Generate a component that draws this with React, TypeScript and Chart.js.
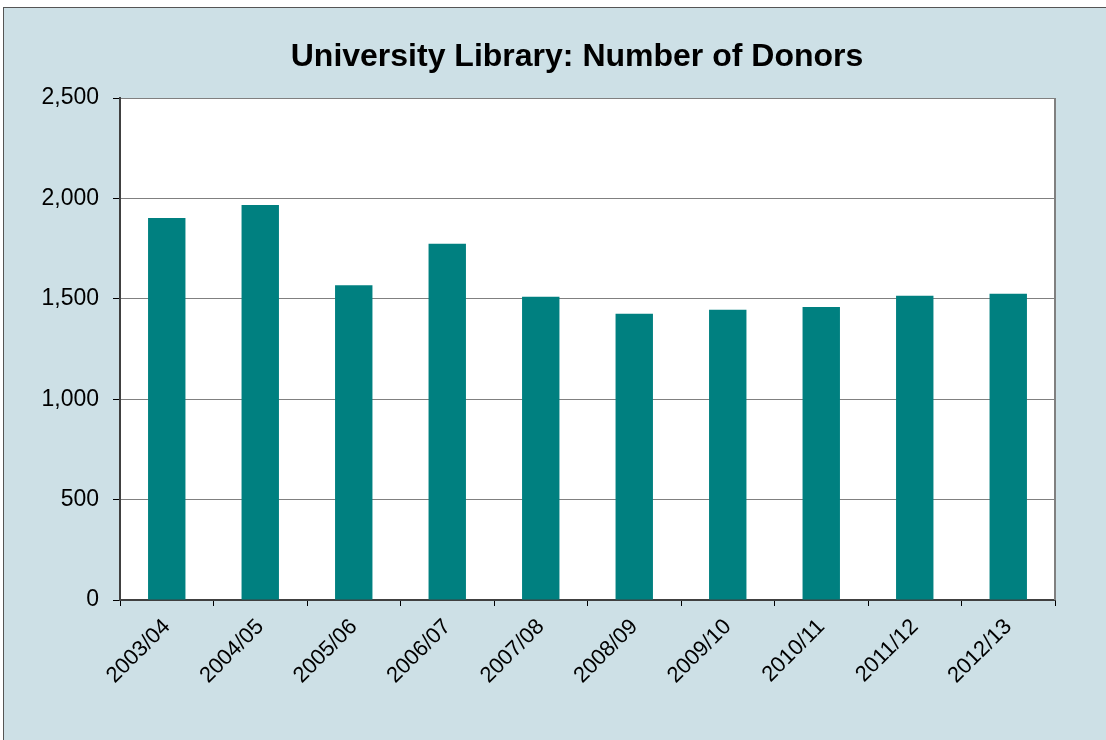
import React, { useEffect, useRef } from "react";
import { Chart, registerables } from "chart.js";

Chart.register(...registerables);

const categories = [
  "2003/04", "2004/05", "2005/06", "2006/07", "2007/08",
  "2008/09", "2009/10", "2010/11", "2011/12", "2012/13",
];
const donors = [1902, 1967, 1568, 1774, 1510, 1425, 1445, 1459, 1515, 1525];
const yTicks = [0, 500, 1000, 1500, 2000, 2500];
const titleText = "University Library: Number of Donors";

const FONT = "Arial, 'Liberation Sans', sans-serif";

const frame = {
  id: "frame",
  beforeDraw(chart: any) {
    const { ctx, chartArea } = chart;
    ctx.save();
    ctx.fillStyle = "#ffffff";
    ctx.fillRect(chartArea.left, chartArea.top, chartArea.right - chartArea.left, chartArea.bottom - chartArea.top);
    ctx.restore();
  },
  afterDraw(chart: any) {
    const { ctx, chartArea } = chart;
    ctx.save();
    ctx.strokeStyle = "#808080";
    ctx.lineWidth = 2;
    ctx.beginPath();
    ctx.moveTo(chartArea.right, chartArea.top);
    ctx.lineTo(chartArea.right, chartArea.bottom);
    ctx.stroke();
    ctx.fillStyle = "#000";
    ctx.font = `bold 32px ${FONT}`;
    ctx.textAlign = "center";
    ctx.textBaseline = "alphabetic";
    ctx.fillText(titleText, 573, 58);
    ctx.restore();
  },
};

export default function App() {
  const ref = useRef<HTMLCanvasElement | null>(null);
  useEffect(() => {
    if (!ref.current) return;
    const chart = new Chart(ref.current, {
      type: "bar",
      data: {
        labels: categories,
        datasets: [
          {
            data: donors,
            backgroundColor: "#008080",
            borderWidth: 0,
            barPercentage: 0.4,
            categoryPercentage: 1,
          },
        ],
      },
      options: {
        animation: false,
        responsive: false,
        maintainAspectRatio: false,
        layout: { padding: { left: 0, top: 90, right: 51, bottom: 0 } },
        plugins: { legend: { display: false }, title: { display: false }, tooltip: { enabled: false } },
        scales: {
          x: {
            grid: { offset: true, drawOnChartArea: false, tickLength: 6, tickColor: "#000", color: "#000" },
            border: { color: "#404040", width: 2 },
            ticks: {
              autoSkip: false,
              minRotation: 45,
              maxRotation: 45,
              color: "#000",
              padding: 8,
              font: { family: FONT, size: 22 },
            },
            afterFit(scale: any) {
              scale.height = 140;
            },
          },
          y: {
            min: 0,
            max: 2500,
            afterBuildTicks(scale: any) {
              scale.ticks = yTicks.map((v) => ({ value: v }));
            },
            grid: { color: "#808080", lineWidth: 1, tickLength: 7, tickColor: "#000" },
            border: { color: "#404040", width: 2 },
            ticks: {
              color: "#000",
              padding: 14,
              font: { family: FONT, size: 23 },
              callback: (v: any) => Number(v).toLocaleString("en-US"),
            },
            afterFit(scale: any) {
              scale.width = 116;
            },
          },
        },
      },
      plugins: [frame],
    });
    return () => chart.destroy();
  }, []);

  return (
    <div style={{ position: "fixed", left: 0, top: 0, width: 1106, height: 740, background: "#ffffff", overflow: "hidden" }}>
      <div
        style={{
          position: "absolute",
          left: 3,
          top: 7,
          width: 1103,
          height: 733,
          boxSizing: "border-box",
          background: "#CDE0E6",
          borderTop: "1px solid #555",
          borderLeft: "1px solid #555",
        }}
      />
      <canvas ref={ref} width={1102} height={732} style={{ position: "absolute", left: 4, top: 8, width: 1102, height: 732 }} />
    </div>
  );
}
